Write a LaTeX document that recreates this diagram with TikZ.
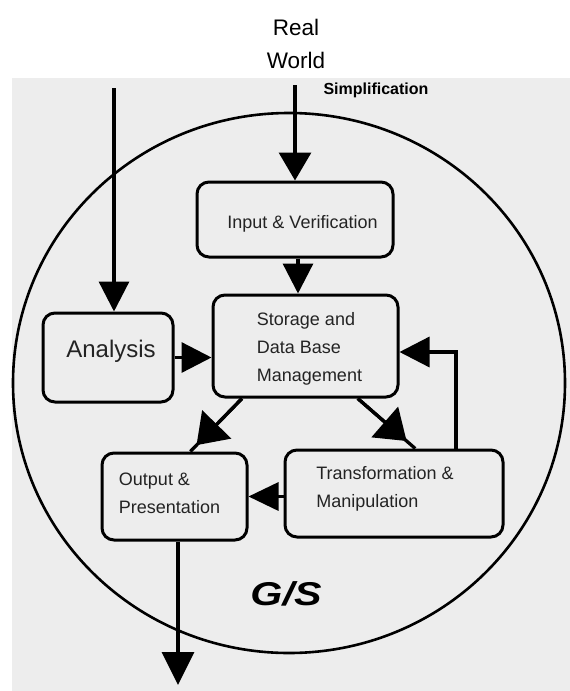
\documentclass[tikz,border=0pt]{standalone}
\usepackage{fontspec}
\setmainfont{Liberation Sans}
\usetikzlibrary{arrows.meta,calc}
\definecolor{bggray}{RGB}{237,237,237}
\definecolor{txt}{RGB}{35,35,35}
\begin{document}
\begin{tikzpicture}[x=1pt,y=-1pt,
  box/.style={draw, line width=3pt, rounded corners=12pt, inner sep=0pt},
  lbl/.style={text=txt, font=\fontsize{18}{28}\selectfont, align=left, inner sep=0pt},
  conn/.style={line width=3.3pt},
  arr/.style={conn, -{Triangle[length=30pt,width=30pt]}},
  darr/.style={conn, -{Triangle[length=29pt,width=40pt]}}]

\useasboundingbox (0,0) rectangle (570,691);
\fill[white] (0,0) rectangle (570,691);
\fill[bggray] (12,78) rectangle (570,691);

% GIS circle
\draw[line width=2.6pt] (289,383) ellipse [x radius=276pt, y radius=270pt];

% boxes
\node[box, minimum width=130pt, minimum height=89pt] (an) at (108,357.5) {};
\node[box, minimum width=196pt, minimum height=75pt] (in) at (295,219.5) {};
\node[box, minimum width=185pt, minimum height=102pt] (st) at (305.5,346) {};
\node[box, minimum width=145pt, minimum height=87pt] (out) at (174.5,496.5) {};
\node[box, minimum width=218pt, minimum height=87pt] (tr) at (394,493.5) {};

% texts
\node[text=black, font=\fontsize{22.5}{33}\selectfont, align=center, inner sep=0pt] (rw) at (296,43.5) {Real\\World};
\node[text=black, font=\fontsize{16}{18}\selectfont\bfseries, anchor=base, inner sep=0pt] (simp) at (376,94.5) {Simplification};
\node[text=txt, font=\fontsize{24}{28}\selectfont, anchor=base, inner sep=0pt] (ant) at (111,357) {Analysis};
\node[lbl, anchor=base] (int) at (302.5,228) {Input \& Verification};
\node[lbl] (stt) at (309.5,348.5) {Storage and\\Data Base\\Management};
\node[lbl] (outt) at (169.5,493) {Output \&\\Presentation};
\node[lbl] (trt) at (385,489) {Transformation \&\\Manipulation};
\node[text=black, font=\fontsize{33}{36}\selectfont\bfseries\itshape, anchor=base, inner sep=0pt] (gis) at (286,605) {\scalebox{1.25}[1]{G/S}};

% connectors
\coordinate (lt) at (114,88);
\draw[arr] (lt) -- (lt |- an.north);
\coordinate (mt) at (295,85);
\draw[conn, -{Triangle[length=28pt,width=32pt]}] (mt) -- (mt |- in.north);
\coordinate (isx) at ([xshift=3pt]in.south);
\draw[arr] (isx) -- (isx |- st.north);
\draw[arr] (an.east) -- (an.east -| st.west);
\coordinate (lp) at (456,352);
\draw[arr] (lp |- tr.north) -- (lp) -- (lp -| st.east);

\coordinate (d1a) at ($(st.south west)!0.162!(st.south east)$);
\coordinate (d1b) at ($(out.north west)!0.607!(out.north east)$);
\draw[conn] (d1a) -- (d1b);
\draw[darr] (d1a) -- ($(d1a)!0.88!(d1b)$);

\coordinate (d2a) at ($(st.south west)!0.778!(st.south east)$);
\coordinate (d2b) at ($(tr.north west)!0.596!(tr.north east)$);
\draw[conn] (d2a) -- (d2b);
\draw[darr] (d2a) -- ($(d2a)!0.85!(d2b)$);

\draw[conn, -{Triangle[length=30pt,width=28pt]}] (out.east -| tr.west) -- (out.east);
\coordinate (ob) at (178,685);
\draw[conn, -{Triangle[length=33pt,width=32pt]}] (ob |- out.south) -- (ob);
\end{tikzpicture}
\end{document}
